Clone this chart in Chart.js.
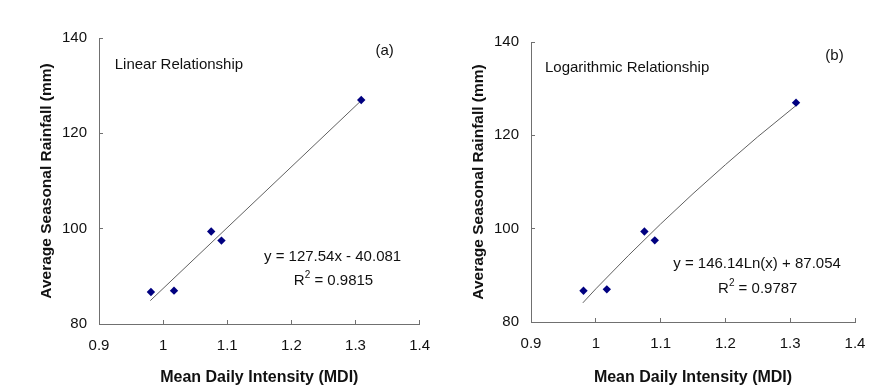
<!DOCTYPE html>
<html>
<head>
<meta charset="utf-8">
<script src="https://cdn.jsdelivr.net/npm/chart.js@4"></script>
<style>
  html, body { margin: 0; padding: 0; background: #fff; }
  #wrap { position: relative; width: 894px; height: 392px; }
  canvas { position: absolute; top: 0; }
</style>
</head>
<body>
<div id="wrap">
  <canvas id="chartA" width="447" height="392" style="left:0"></canvas>
  <canvas id="chartB" width="447" height="392" style="left:447px"></canvas>
</div>
<script>
// observed points (same in both panels)
const mdi = [0.981, 1.017, 1.075, 1.091, 1.309];
const rainfall = [86.7, 87.0, 99.4, 97.5, 127.0];

// trend lines
const linearFitX = [0.98, 1.31];
const linearFitY = [84.9, 127.0];
const logFitX = [0.98, 1.0, 1.05, 1.1, 1.15, 1.2, 1.25, 1.31];
const logFitY = [84.1, 87.1, 94.2, 101.0, 107.5, 113.7, 119.7, 126.5];

const xTickValues = [0.9, 1, 1.1, 1.2, 1.3, 1.4];
const yTickValues = [80, 100, 120, 140];

const FONT = '"Liberation Sans", Arial, sans-serif';
const TEXT = '#111';
const AXIS = '#707070';

// text notes drawn at data positions
const notesPlugin = {
  id: 'notes',
  afterDatasetsDraw(chart, args, opts) {
    const { ctx, scales: { x, y } } = chart;
    ctx.save();
    ctx.fillStyle = TEXT;
    ctx.textBaseline = 'middle';
    (opts.items || []).forEach(it => {
      const px = x.getPixelForValue(it.x);
      const py = y.getPixelForValue(it.y);
      const parts = it.parts.map(p => ({
        t: p.t,
        sup: !!p.sup,
        font: (p.sup ? 10 : 15) + 'px ' + FONT
      }));
      let total = 0;
      parts.forEach(p => { ctx.font = p.font; p.w = ctx.measureText(p.t).width; total += p.w; });
      let cx = it.align === 'left' ? px : px - total / 2;
      ctx.textAlign = 'left';
      parts.forEach(p => {
        ctx.font = p.font;
        ctx.fillText(p.t, cx, p.sup ? py - 6 : py);
        cx += p.w;
      });
    });
    ctx.restore();
  }
};

function makeChart(id, fitX, fitY, layout, notes) {
  const points = mdi.map((v, i) => ({ x: v, y: rainfall[i] }));
  const fit = fitX.map((v, i) => ({ x: v, y: fitY[i] }));

  return new Chart(document.getElementById(id), {
    type: 'scatter',
    data: {
      datasets: [
        {
          data: points,
          pointStyle: 'rectRot',
          pointRadius: 4.2,
          borderWidth: 0,
          backgroundColor: '#000080',
          order: 0
        },
        {
          type: 'line',
          data: fit,
          showLine: true,
          borderColor: '#606060',
          borderWidth: 1,
          pointRadius: 0,
          fill: false,
          tension: 0,
          order: 1
        }
      ]
    },
    options: {
      responsive: false,
      animation: false,
      layout: { padding: { left: 0, top: layout.top, right: layout.right, bottom: 0 } },
      plugins: {
        legend: { display: false },
        tooltip: { enabled: false },
        notes: { items: notes }
      },
      scales: {
        x: {
          type: 'linear',
          min: 0.9,
          max: 1.4,
          afterBuildTicks: s => { s.ticks = xTickValues.map(v => ({ value: v })); },
          afterFit: s => { s.height = layout.xHeight; },
          grid: { drawOnChartArea: false, tickLength: -4, color: AXIS, tickColor: AXIS },
          border: { color: AXIS, width: 1 },
          ticks: {
            font: { family: FONT, size: 15 },
            color: TEXT,
            padding: 17,
            maxRotation: 0,
            callback: v => String(v)
          },
          title: {
            display: true,
            text: 'Mean Daily Intensity (MDI)',
            font: { family: FONT, size: 16, weight: 'bold' },
            color: TEXT,
            padding: { top: 0, bottom: 4.4 }
          }
        },
        y: {
          type: 'linear',
          min: 80,
          max: 140,
          afterBuildTicks: s => { s.ticks = yTickValues.map(v => ({ value: v })); },
          afterFit: s => { s.width = layout.yWidth; },
          grid: { drawOnChartArea: false, tickLength: -4, color: AXIS, tickColor: AXIS },
          border: { color: AXIS, width: 1 },
          ticks: { font: { family: FONT, size: 15 }, color: TEXT, padding: 16 },
          title: {
            display: true,
            text: 'Average Seasonal Rainfall (mm)',
            font: { family: FONT, size: 15.5, weight: 'bold' },
            color: TEXT,
            padding: { top: layout.yTitlePad, bottom: 0 }
          }
        }
      }
    },
    plugins: [notesPlugin]
  });
}

makeChart('chartA', linearFitX, linearFitY,
  { top: 38, right: 22, xHeight: 68, yWidth: 99, yTitlePad: 37.4 },
  [
    { x: 0.9245, y: 134.3, align: 'left', parts: [{ t: 'Linear Relationship' }] },
    { x: 1.3456, y: 137.3, parts: [{ t: '(a)' }] },
    { x: 1.2643, y: 94.05, parts: [{ t: 'y = 127.54x - 40.081' }] },
    { x: 1.2658, y: 89.0, parts: [{ t: 'R' }, { t: '2', sup: true }, { t: ' = 0.9815' }] }
  ]);

makeChart('chartB', logFitX, logFitY,
  { top: 42, right: 39, xHeight: 70, yWidth: 84, yTitlePad: 22.7 },
  [
    { x: 0.9216, y: 134.5, align: 'left', parts: [{ t: 'Logarithmic Relationship' }] },
    { x: 1.3684, y: 137.06, parts: [{ t: '(b)' }] },
    { x: 1.2488, y: 92.36, parts: [{ t: 'y = 146.14Ln(x) + 87.054' }] },
    { x: 1.2499, y: 87.0, parts: [{ t: 'R' }, { t: '2', sup: true }, { t: ' = 0.9787' }] }
  ]);
</script>
</body>
</html>
